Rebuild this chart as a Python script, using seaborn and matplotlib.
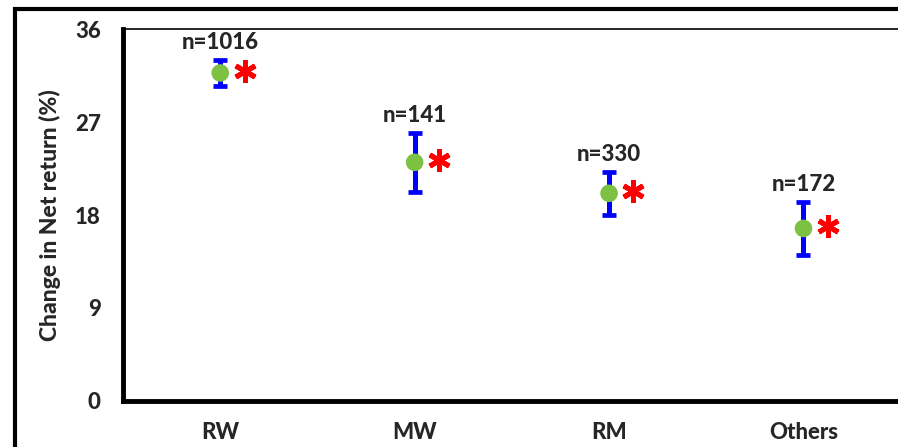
import numpy as np
import pandas as pd
import seaborn as sns
import matplotlib.pyplot as plt
from matplotlib.patches import Rectangle

# data
groups = ["RW", "MW", "RM", "Others"]
net_return = [31.75, 23.1, 20.1, 16.7]
err = [1.3, 2.85, 2.1, 2.6]
n_labels = ["n=1016", "n=141", "n=330", "n=172"]
y_ticks = [0, 9, 18, 27, 36]

GREEN = "#7cc142"
BLUE = "#0000ff"
RED = "#ff0000"
W = 900  # heavy weight for the Calibri-bold look

sns.set_style("white")
plt.rcParams["font.family"] = ["Lato", "DejaVu Sans"]
plt.rcParams["font.weight"] = W

df = pd.DataFrame({"pos": np.arange(len(groups)), "group": groups,
                   "value": net_return, "err": err, "label": n_labels})

fig = plt.figure(figsize=(8.98, 4.47), dpi=100)
ax = fig.add_axes([0.137, 0.103, 0.866, 0.832])

# error bars first, then the green means on top
ax.errorbar(df["pos"], df["value"], yerr=df["err"], fmt="none",
            ecolor=BLUE, elinewidth=3.6, capsize=5, capthick=3.4, zorder=2)
sns.scatterplot(data=df, x="pos", y="value", color=GREEN, s=160,
                edgecolor="none", zorder=3, ax=ax, legend=False)

# significance asterisks to the right of each point
ax.plot(df["pos"] + 0.125, df["value"] + 0.2, linestyle="none",
        marker=(6, 2, 0), markersize=16, markeredgewidth=3.6,
        color=RED, zorder=3)

# sample sizes above the bars
for _, row in df.iterrows():
    ax.annotate(row["label"], (row["pos"], row["value"] + row["err"]),
                xytext=(0, 5), textcoords="offset points",
                ha="center", va="bottom", fontsize=16, fontweight=W)

ax.set_xlim(-0.5, 3.5)
ax.set_ylim(0, 36)
ax.set_yticks(y_ticks)
ax.set_yticklabels([str(t) for t in y_ticks], fontsize=16, fontweight=W)
ax.set_xticks(df["pos"])
ax.set_xticklabels(groups, fontsize=16, fontweight=W)
ax.tick_params(axis="x", length=0, pad=15)
ax.tick_params(axis="y", direction="out", length=7, width=3, pad=9)
ax.set_xlabel("")
ax.set_ylabel("Change in Net return (%)", fontsize=16.5, fontweight=W,
              labelpad=10)

for side in ["left", "bottom"]:
    ax.spines[side].set_linewidth(3.5)
    ax.spines[side].set_color("black")
ax.spines["top"].set_linewidth(1.2)
ax.spines["top"].set_color("black")
ax.spines["right"].set_visible(False)

# outer frame around the whole figure (cut off on right and bottom)
frame = Rectangle((15 / 898, -0.1), 1.2, (447 - 9) / 447 + 0.1,
                  transform=fig.transFigure, fill=False,
                  edgecolor="black", linewidth=3, clip_on=False)
fig.patches.append(frame)

fig.savefig("out.png", dpi=100)
